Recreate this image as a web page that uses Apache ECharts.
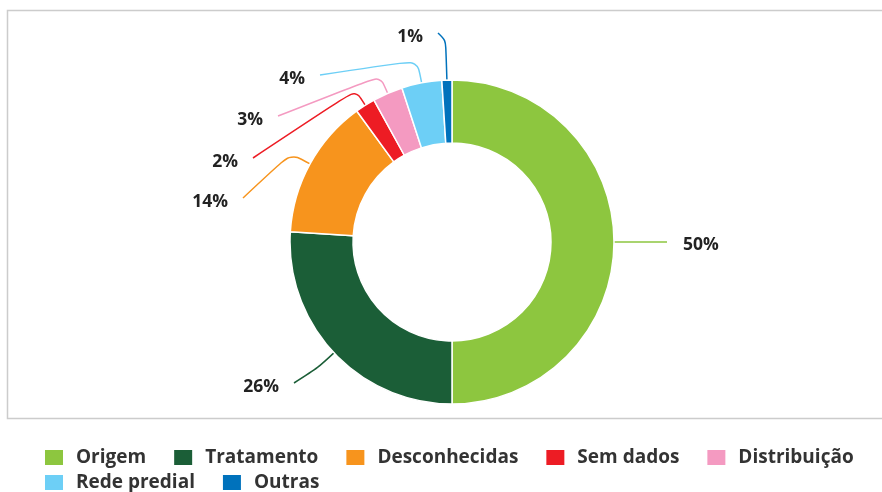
<!DOCTYPE html>
<html>
<head>
<meta charset="utf-8">
<script src="https://cdn.jsdelivr.net/npm/echarts@6/dist/echarts.min.js"></script>
<style>
    html, body { margin: 0; padding: 0; background: #fff; }
    #chart { width: 882px; height: 492px; }
</style>
</head>
<body>
<div id="chart"></div>
<script>
// dados
const categories = ['Origem', 'Tratamento', 'Desconhecidas', 'Sem dados', 'Distribuição', 'Rede predial', 'Outras'];
const values = [50, 26, 14, 2, 3, 4, 1];
const colors = ['#8dc63f', '#1b5e37', '#f7941d', '#ed1c24', '#f49ac1', '#6dcff6', '#0072bc'];
const legendRow1 = ['Origem', 'Tratamento', 'Desconhecidas', 'Sem dados', 'Distribuição'];
const legendRow2 = ['Rede predial', 'Outras'];

// posição das etiquetas (layout) e comprimento do primeiro troço da linha
const labelAnchor = [[683, 245], [279, 387], [228, 202], [238, 162], [263, 120], [305, 79], [423, 37]];
const elbowLen = [26, 22, 22, 18, 19, 23, 40];

const cx = 452, cy = 242;
const font = 'Open Sans';

const chart = echarts.init(document.getElementById('chart'));

const legendBase = {
    left: 43,
    padding: 0,
    orient: 'horizontal',
    icon: 'rect',
    itemWidth: 20,
    itemHeight: 17,
    itemGap: 26,
    textStyle: {
        fontFamily: font,
        fontSize: 19,
        fontWeight: 'bold',
        color: '#333',
        padding: [0, 0, 0, 7]
    }
};

const option = {
    animation: false,
    color: colors,
    graphic: [{
        type: 'rect',
        shape: { x: 7.5, y: 10.5, width: 890, height: 408 },
        style: { fill: 'none', stroke: '#cccccc', lineWidth: 1.5 },
        silent: true
    }],
    legend: [
        Object.assign({}, legendBase, { top: 448, data: legendRow1 }),
        Object.assign({}, legendBase, { top: 473, data: legendRow2 })
    ],
    series: [{
        type: 'pie',
        center: [cx, cy],
        radius: [99, 162],
        startAngle: 90,
        clockwise: true,
        avoidLabelOverlap: false,
        itemStyle: { borderColor: '#fff', borderWidth: 1.5 },
        label: {
            show: true,
            fontFamily: font,
            fontSize: 17.5,
            fontWeight: 'bold',
            color: '#222',
            formatter: p => p.value + '%'
        },
        labelLine: {
            show: true,
            length: 20,
            length2: 20,
            smooth: 0.3,
            lineStyle: { width: 1.5 }
        },
        labelLayout: function (params) {
            const i = params.dataIndex;
            const a = labelAnchor[i];
            const p0 = params.labelLinePoints[0];
            let dx = p0[0] - cx, dy = p0[1] - cy;
            const d = Math.sqrt(dx * dx + dy * dy);
            dx /= d; dy /= d;
            const p1 = [p0[0] + dx * elbowLen[i], p0[1] + dy * elbowLen[i]];
            const right = a[0] > cx + 100;
            const p2 = right ? [a[0] - 16, a[1] - 3] : [a[0] + 15, a[1] - 4];
            return {
                x: a[0],
                y: a[1],
                align: right ? 'left' : 'right',
                verticalAlign: 'middle',
                labelLinePoints: [p0, p1, p2]
            };
        },
        emphasis: { disabled: true },
        data: categories.map((c, i) => ({ name: c, value: values[i] }))
    }]
};

chart.setOption(option);
</script>
</body>
</html>
